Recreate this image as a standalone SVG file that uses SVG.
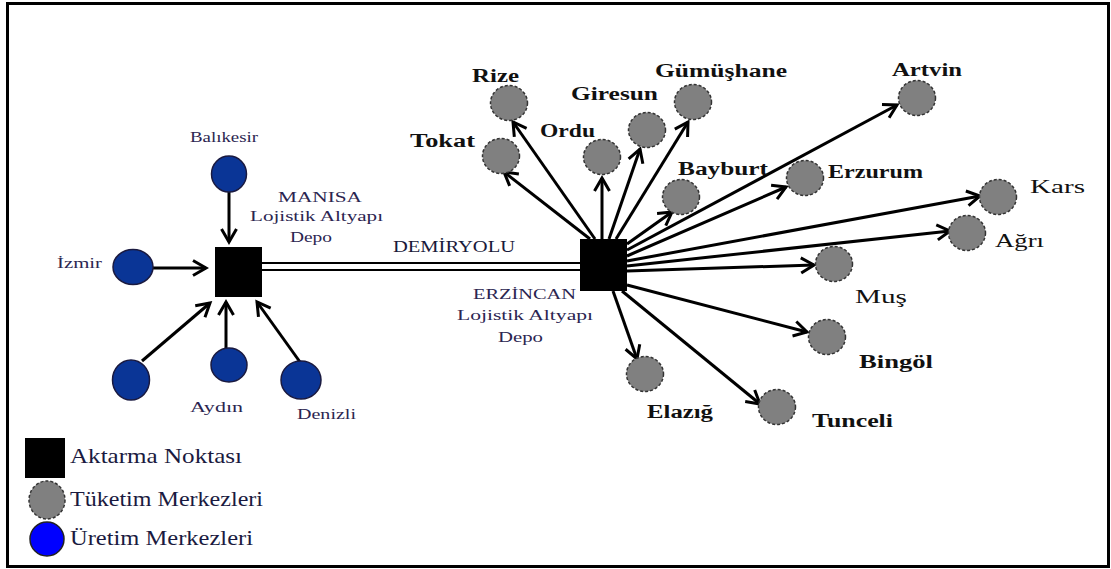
<svg xmlns="http://www.w3.org/2000/svg" width="1111" height="569" viewBox="0 0 1111 569">
<style>
.frame{fill:#fff;stroke:#000;stroke-width:3}
.hub{fill:#000}
.prod{fill:#0a3596;stroke:#1a1a40;stroke-width:1.5}
.cons{fill:#808080;stroke:#333;stroke-width:1.5;stroke-dasharray:3 2}
.arr{stroke:#000;stroke-width:3;fill:none;marker-end:url(#ah)}
.rail{stroke:#000;stroke-width:2}
text{font-family:'Liberation Serif','Times New Roman',Times,serif}
.sm{font-size:15px;fill:#2b2550}
.bl{font-size:18px;font-weight:bold;fill:#111}
.rg{font-size:18px;fill:#111}
.lg{font-size:21px;fill:#1a1a40}
.rl{font-size:16px;fill:#1a1a3a}
</style>
<defs>
<marker id="ah" viewBox="-15 -10 17 20" refX="0" refY="0" markerWidth="17" markerHeight="20" markerUnits="userSpaceOnUse" orient="auto" overflow="visible">
<path d="M-13,-7.5 L0,0 L-13,7.5" fill="none" stroke="#000" stroke-width="3"/>
</marker>
</defs>
<rect class="frame" x="7.5" y="3.5" width="1101" height="563"/>

<g id="connectors">
<line class="rail" x1="262" y1="263" x2="580" y2="263"/>
<line class="rail" x1="262" y1="270" x2="580" y2="270"/>
<line class="arr" x1="229" y1="192" x2="229" y2="242"/>
<line class="arr" x1="153" y1="268" x2="206" y2="268"/>
<line class="arr" x1="142" y1="361" x2="210" y2="303"/>
<line class="arr" x1="226" y1="349" x2="226" y2="302"/>
<line class="arr" x1="300" y1="362" x2="257" y2="302"/>
<line class="arr" x1="590" y1="239" x2="504" y2="172"/>
<line class="arr" x1="595" y1="239" x2="513" y2="122"/>
<line class="arr" x1="602" y1="239" x2="602" y2="178"/>
<line class="arr" x1="609" y1="239" x2="640" y2="149"/>
<line class="arr" x1="616" y1="239" x2="688" y2="122"/>
<line class="arr" x1="627" y1="244" x2="672" y2="212"/>
<line class="arr" x1="627" y1="250" x2="897" y2="105"/>
<line class="arr" x1="627" y1="256" x2="786" y2="187"/>
<line class="arr" x1="627" y1="261" x2="980" y2="196"/>
<line class="arr" x1="627" y1="266" x2="950" y2="231"/>
<line class="arr" x1="627" y1="271" x2="814" y2="265"/>
<line class="arr" x1="627" y1="285" x2="807" y2="332"/>
<line class="arr" x1="622" y1="291" x2="760" y2="404"/>
<line class="arr" x1="613" y1="291" x2="637" y2="359"/>
<text class="rl" x="393" y="252" textLength="122" lengthAdjust="spacingAndGlyphs">DEMİRYOLU</text>
</g>

<g id="manisa">
<rect class="hub" x="215" y="247" width="47" height="50"/>
<text class="sm" x="278" y="202" textLength="84" lengthAdjust="spacingAndGlyphs">MANISA</text>
<text class="sm" x="250" y="221" textLength="133" lengthAdjust="spacingAndGlyphs">Lojistik Altyapı</text>
<text class="sm" x="290" y="242" textLength="42" lengthAdjust="spacingAndGlyphs">Depo</text>
</g>
<g id="erzincan">
<rect class="hub" x="580" y="239" width="47" height="52"/>
<text class="sm" x="473" y="299" textLength="103" lengthAdjust="spacingAndGlyphs">ERZİNCAN</text>
<text class="sm" x="457" y="320" textLength="136" lengthAdjust="spacingAndGlyphs">Lojistik Altyapı</text>
<text class="sm" x="498" y="342" textLength="45" lengthAdjust="spacingAndGlyphs">Depo</text>
</g>

<g id="balikesir"><ellipse class="prod" cx="229" cy="174" rx="17.5" ry="18"/><text class="sm" x="190" y="142" textLength="68" lengthAdjust="spacingAndGlyphs">Balıkesir</text></g>
<g id="izmir"><ellipse class="prod" cx="133" cy="267" rx="20" ry="17.5"/><text class="sm" x="57" y="268" textLength="45" lengthAdjust="spacingAndGlyphs">İzmir</text></g>
<g id="unnamed"><ellipse class="prod" cx="131" cy="380" rx="18.5" ry="20"/></g>
<g id="aydin"><ellipse class="prod" cx="229" cy="365" rx="18" ry="17"/><text class="sm" x="190" y="412" textLength="53" lengthAdjust="spacingAndGlyphs">Aydın</text></g>
<g id="denizli"><ellipse class="prod" cx="301" cy="380" rx="20" ry="19"/><text class="sm" x="297" y="419" textLength="59" lengthAdjust="spacingAndGlyphs">Denizli</text></g>

<g id="rize"><ellipse class="cons" cx="509" cy="103" rx="18.5" ry="17.5"/><text class="bl" x="472" y="82" textLength="47" lengthAdjust="spacingAndGlyphs">Rize</text></g>
<g id="tokat"><ellipse class="cons" cx="501" cy="156" rx="18.5" ry="17.5"/><text class="bl" x="410" y="147" textLength="65" lengthAdjust="spacingAndGlyphs">Tokat</text></g>
<g id="ordu"><ellipse class="cons" cx="602" cy="157" rx="18.5" ry="17.5"/><text class="bl" x="540" y="137" textLength="55" lengthAdjust="spacingAndGlyphs">Ordu</text></g>
<g id="giresun"><ellipse class="cons" cx="647" cy="130" rx="18.5" ry="17.5"/><text class="bl" x="571" y="100" textLength="87" lengthAdjust="spacingAndGlyphs">Giresun</text></g>
<g id="gumushane"><ellipse class="cons" cx="693" cy="102" rx="18.5" ry="17.5"/><text class="bl" x="655" y="77" textLength="132" lengthAdjust="spacingAndGlyphs">Gümüşhane</text></g>
<g id="bayburt"><ellipse class="cons" cx="681" cy="197" rx="18.5" ry="17.5"/><text class="bl" x="678" y="175" textLength="90" lengthAdjust="spacingAndGlyphs">Bayburt</text></g>
<g id="erzurum"><ellipse class="cons" cx="805" cy="178" rx="18.5" ry="17.5"/><text class="bl" x="828" y="178" textLength="95" lengthAdjust="spacingAndGlyphs">Erzurum</text></g>
<g id="artvin"><ellipse class="cons" cx="917" cy="98" rx="18.5" ry="17.5"/><text class="bl" x="892" y="76" textLength="70" lengthAdjust="spacingAndGlyphs">Artvin</text></g>
<g id="kars"><ellipse class="cons" cx="998" cy="197" rx="18.5" ry="17.5"/><text class="rg" x="1030" y="193" textLength="55" lengthAdjust="spacingAndGlyphs">Kars</text></g>
<g id="agri"><ellipse class="cons" cx="967" cy="233" rx="18.5" ry="17.5"/><text class="rg" x="995" y="247" textLength="49" lengthAdjust="spacingAndGlyphs">Ağrı</text></g>
<g id="mus"><ellipse class="cons" cx="834" cy="264" rx="18.5" ry="17.5"/><text class="rg" x="855" y="303" textLength="52" lengthAdjust="spacingAndGlyphs">Muş</text></g>
<g id="bingol"><ellipse class="cons" cx="827" cy="337" rx="18.5" ry="17.5"/><text class="bl" x="859" y="368" textLength="74" lengthAdjust="spacingAndGlyphs">Bingöl</text></g>
<g id="tunceli"><ellipse class="cons" cx="777" cy="407" rx="18.5" ry="17.5"/><text class="bl" x="812" y="427" textLength="81" lengthAdjust="spacingAndGlyphs">Tunceli</text></g>
<g id="elazig"><ellipse class="cons" cx="645" cy="374" rx="18.5" ry="17.5"/><text class="bl" x="647" y="418" textLength="66" lengthAdjust="spacingAndGlyphs">Elazığ</text></g>

<g id="legend">
<rect class="hub" x="25" y="438" width="40" height="40"/>
<text class="lg" x="70" y="463" textLength="172" lengthAdjust="spacingAndGlyphs">Aktarma Noktası</text>
<ellipse class="cons" cx="47" cy="500" rx="18" ry="19"/>
<text class="lg" x="70" y="506" textLength="193" lengthAdjust="spacingAndGlyphs">Tüketim Merkezleri</text>
<ellipse cx="47" cy="539" rx="17" ry="17" fill="#0000ff" stroke="#222" stroke-width="1.5"/>
<text class="lg" x="70" y="545" textLength="183" lengthAdjust="spacingAndGlyphs">Üretim Merkezleri</text>
</g>
</svg>
